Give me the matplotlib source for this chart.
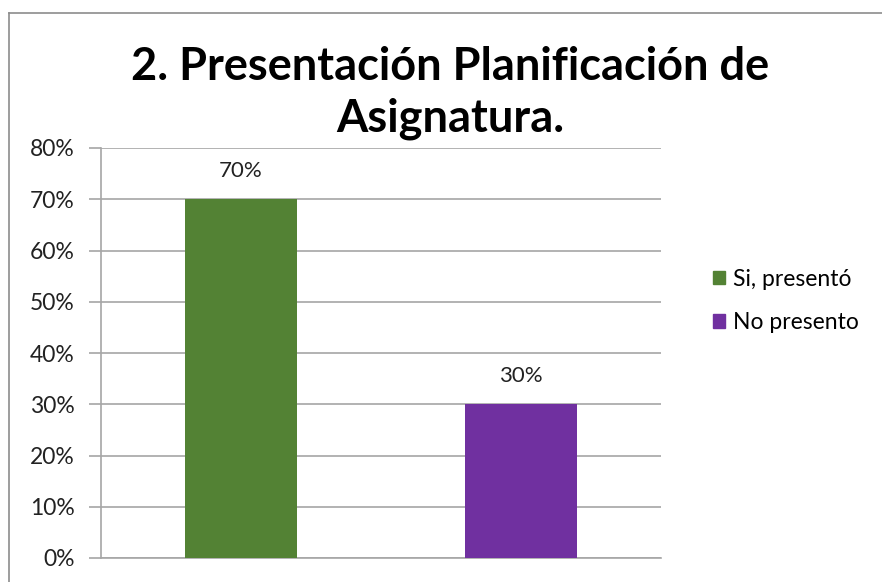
import matplotlib
matplotlib.use("Agg")
import matplotlib.pyplot as plt
from matplotlib.lines import Line2D
from matplotlib.patches import Patch

categories = ["Si, presentó", "No presento"]
values = [70, 30]
labels = ["70%", "30%"]
yticks = [0, 10, 20, 30, 40, 50, 60, 70, 80]
ytick_labels = ["0%", "10%", "20%", "30%", "40%", "50%", "60%", "70%", "80%"]
colors = ["#538234", "#7030A0"]
title = "2. Presentación Planificación de\nAsignatura."

plt.rcParams['font.family'] = ['Lato', 'DejaVu Sans']

W, H = 882, 582
fig = plt.figure(figsize=(W / 100, H / 100), dpi=100)
fig.patch.set_facecolor("white")

# outer border (only left and top visible)
fig.add_artist(Line2D([9 / W, 9 / W], [0, 1 - 13 / H], transform=fig.transFigure,
                      color="#8C8C8C", lw=1.2))
fig.add_artist(Line2D([9 / W, 1], [1 - 13 / H, 1 - 13 / H], transform=fig.transFigure,
                      color="#8C8C8C", lw=1.2))

ax = fig.add_axes([101 / W, (H - 558) / H, 560 / W, 410 / H])
x = [0, 1]
ax.bar(x, values, width=0.4, color=colors, zorder=3)
ax.set_xlim(-0.5, 1.5)
ax.set_ylim(0, 80)
ax.set_yticks(yticks)
ax.set_yticklabels(ytick_labels, fontsize=16.5, color="#222222")
ax.set_xticks([])
ax.yaxis.grid(True, color="#A6A6A6", lw=1.2, zorder=0)
for s in ["top", "right"]:
    ax.spines[s].set_visible(False)
ax.spines["left"].set_color("#A6A6A6")
ax.spines["bottom"].set_color("#A6A6A6")
ax.spines["left"].set_linewidth(1.2)
ax.spines["bottom"].set_linewidth(1.2)
ax.tick_params(axis="y", length=9, width=1.2, color="#A6A6A6", pad=10)

for xi, v, lab in zip(x, values, labels):
    ax.annotate(lab, (xi, v), xytext=(0, 13), textcoords="offset points",
                ha="center", va="bottom", fontsize=16, color="#222222")

fig.text(450 / W, 1 - 93 / H, title, ha="center", va="center", fontsize=32.5,
         fontweight="bold", linespacing=1.3, color="black")

handles = [Patch(facecolor=c, edgecolor=c) for c in colors]
fig.legend(handles, categories, loc="center left", bbox_to_anchor=(692 / W, 1 - 301 / H),
           frameon=False, fontsize=16.5, handlelength=0.55, handleheight=0.55,
           labelspacing=1.0, handletextpad=0.35)

fig.savefig("out.png", dpi=100)
